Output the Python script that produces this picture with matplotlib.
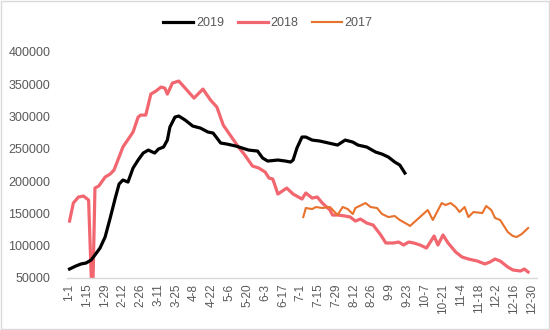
import matplotlib
matplotlib.use("Agg")
import matplotlib.pyplot as plt
from matplotlib.patches import Rectangle

plt.rcParams['font.family'] = ['Liberation Sans', 'DejaVu Sans']

tick_labels = ["1-1", "1-15", "1-29", "2-12", "2-26", "3-11", "3-25", "4-8", "4-22",
               "5-6", "5-20", "6-3", "6-17", "7-1", "7-15", "7-29", "8-12", "8-26",
               "9-9", "9-23", "10-7", "10-21", "11-4", "11-18", "12-2", "12-16", "12-30"]
tick_days = [14 * i for i in range(len(tick_labels))]

days_2019 = [0, 5, 9, 13, 17, 20, 24, 28, 32, 36, 39, 42, 46, 50, 54, 58, 62, 67, 70, 74,
             77, 79, 83, 86, 91, 97, 103, 109, 113, 119, 124, 131, 136, 141, 148, 152, 156,
             164, 170, 174, 176, 179, 183, 186, 191, 197, 204, 211, 217, 223, 227, 234, 241,
             246, 251, 256, 260, 264]
vals_2019 = [63900, 68600, 71700, 73200, 77900, 85600, 96400, 113500, 142900, 173800,
             195500, 201700, 198600, 220300, 232700, 243500, 248100, 243500, 249700, 252800,
             263600, 283700, 299200, 300800, 294600, 285300, 282200, 276000, 274500, 259000,
             257400, 254300, 251200, 248100, 246600, 235800, 231100, 232700, 231100, 229600,
             232700, 251200, 268300, 268300, 263600, 262100, 259000, 255900, 263600, 260500,
             255900, 252800, 245000, 241900, 237300, 229600, 224900, 212500]

days_2018 = [0, 3, 7, 11, 15, 18, 20, 23, 28, 32, 35, 39, 42, 50, 54, 56, 60, 64, 68, 72,
             75, 77, 81, 86, 91, 98, 105, 111, 116, 121, 127, 133, 138, 144, 149, 154, 157,
             160, 164, 171, 176, 183, 186, 191, 195, 199, 205, 207, 211, 217, 221, 225, 229,
             234, 239, 245, 249, 255, 259, 263, 267, 271, 276, 281, 286, 287, 290, 294, 298,
             304, 309, 314, 321, 327, 331, 335, 339, 345, 349, 355, 358, 361]
vals_2018 = [138200, 166100, 175400, 176900, 170700, 0, 189300, 192400, 206300, 211000,
             217200, 237300, 252800, 276000, 299200, 302300, 302300, 334800, 339500, 345700,
             344100, 334800, 351900, 355000, 344100, 328600, 342600, 325500, 314700, 286800,
             269800, 252800, 240400, 223400, 220300, 214100, 204800, 203300, 180000, 189300,
             180000, 172300, 181600, 173800, 175400, 166100, 155300, 147500, 147500, 146000,
             144400, 138200, 141300, 135100, 132000, 116600, 104200, 104200, 105700, 101100,
             105700, 104200, 101100, 96400, 111900, 115000, 101100, 116600, 104200, 90200,
             82500, 79400, 76300, 71700, 74800, 79400, 76300, 67000, 62400, 60800, 63900,
             59300]

days_2017 = [184, 186, 191, 194, 199, 205, 211, 215, 219, 223, 225, 233, 237, 242, 246, 251,
             256, 260, 267, 268, 275, 282, 286, 293, 296, 300, 304, 307, 311, 314, 318, 325,
             328, 332, 335, 339, 345, 349, 352, 356, 361]
vals_2017 = [144400, 158400, 156800, 159900, 158400, 159900, 147500, 159900, 156800, 149100,
             158400, 166100, 159900, 158400, 149100, 144400, 146000, 139800, 132000, 130500,
             142900, 155300, 139800, 166100, 163000, 166100, 159900, 152200, 159900, 144400,
             152200, 150600, 161500, 155300, 142900, 139800, 121200, 115000, 113500, 118100,
             127400]

y_ticks = [50000, 100000, 150000, 200000, 250000, 300000, 350000, 400000]

fig = plt.figure(figsize=(5.5, 3.3), dpi=100)
ax = fig.add_axes([67 / 550, 52 / 330, 470 / 550, 226 / 330])

ax.plot(days_2019, vals_2019, color='#000000', lw=2.3, label='2019', zorder=3)
ax.plot(days_2018, vals_2018, color='#F2666F', lw=2.3, label='2018', zorder=2)
ax.plot(days_2017, vals_2017, color='#E8712B', lw=1.5, label='2017', zorder=2)

ax.set_xlim(-2, 368)
ax.set_ylim(50000, 400000)
ax.set_xticks(tick_days)
ax.set_xticklabels(tick_labels, rotation=90, fontsize=8.5, color='#595959')
ax.set_yticks(y_ticks)
ax.set_yticklabels([str(v) for v in y_ticks], fontsize=9, color='#595959')
ax.tick_params(axis='both', length=0)
ax.tick_params(axis='y', pad=12)
ax.tick_params(axis='x', pad=4)
for s in ['top', 'right', 'left']:
    ax.spines[s].set_visible(False)
ax.spines['bottom'].set_color('#D9D9D9')
ax.spines['bottom'].set_linewidth(1)

leg = fig.legend(loc='center', bbox_to_anchor=(268 / 550, 1 - 23 / 330), ncol=3,
                 frameon=False, fontsize=9, handlelength=2.4, columnspacing=1.05,
                 handletextpad=0.25)
for t in leg.get_texts():
    t.set_color('#595959')

fig.patches.append(Rectangle((0.002, 0.003), 0.996, 0.994, transform=fig.transFigure,
                             fill=False, edgecolor='#D9D9D9', lw=1))

fig.savefig('out.png', dpi=100, facecolor='white')
